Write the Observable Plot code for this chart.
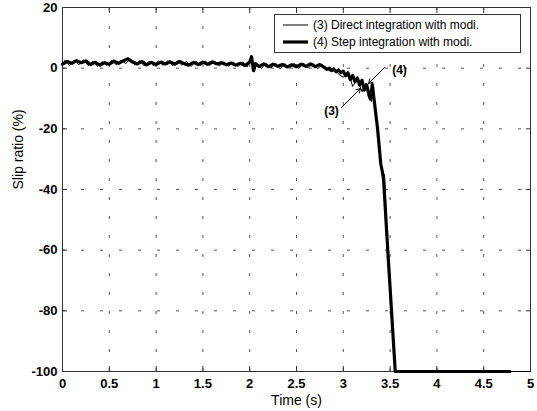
<!DOCTYPE html>
<html><head><meta charset="utf-8">
<script src="https://cdn.jsdelivr.net/npm/d3@7"></script>
<script src="https://cdn.jsdelivr.net/npm/@observablehq/plot@0.6"></script>
<style>
body{margin:0;background:#fff;}
#chart svg{display:block;}
</style></head><body><div id="chart"></div>
<script>
// ---- data ----
const xTicks = [0, 0.5, 1, 1.5, 2, 2.5, 3, 3.5, 4, 4.5, 5];
const yTicks = [-100, -80, -60, -40, -20, 0, 20];
const seriesNames = ["(3) Direct integration with modi.", "(4) Step integration with modi."];
const xLabel = "Time (s)";
const yLabel = "Slip ratio (%)";

// (4) Step integration (thick)
const time4 = [0, 0.05, 0.1, 0.15, 0.2, 0.25, 0.3, 0.35, 0.4, 0.45, 0.5, 0.55, 0.6, 0.65, 0.7, 0.75, 0.8, 0.85, 0.9, 0.95,
  1.0, 1.05, 1.1, 1.15, 1.2, 1.25, 1.3, 1.35, 1.4, 1.45, 1.5, 1.55, 1.6, 1.65, 1.7, 1.75, 1.8, 1.85, 1.9, 1.95, 2.0,
  2.02, 2.04, 2.06, 2.1, 2.15, 2.2, 2.25, 2.3, 2.35, 2.4, 2.45, 2.5, 2.55, 2.6, 2.65, 2.7, 2.75, 2.8,
  2.825, 2.85, 2.875, 2.9, 2.925, 2.95, 2.975, 3.0, 3.025, 3.05, 3.075, 3.1, 3.125, 3.15, 3.175, 3.2, 3.225, 3.25, 3.275,
  3.29, 3.31, 3.33, 3.365, 3.40, 3.415, 3.43, 3.475, 3.515, 3.555, 4.78];
const slip4 = [1.3, 2.2, 1.6, 2.5, 1.8, 2.4, 1.2, 1.9, 1.0, 1.8, 1.3, 2.3, 1.6, 2.4, 3.1, 2.0, 1.4, 2.2, 1.1, 1.9,
  1.2, 2.0, 1.4, 2.1, 1.3, 2.2, 1.5, 1.0, 1.9, 1.2, 2.0, 1.3, 2.1, 1.4, 1.8, 1.1, 1.7, 1.0, 1.6, 0.9, 2.0,
  3.8, -0.8, 1.5, 0.6, 1.4, 0.5, 1.3, 0.6, 1.2, 0.4, 1.1, 0.5, 1.3, 0.6, 1.4, 0.5, 1.2, 0.2,
  -0.4, 0.0, -0.8, -0.5, -1.2, -0.6, -1.5, -1.0, -2.5, -1.6, -3.8, -2.4, -4.5, -3.2, -5.6, -4.0, -7.2, -5.5, -9.0,
  -10.2, -5.4, -10.6, -19.6, -31.5, -33.8, -36.5, -60, -80, -100, -100];

// (3) Direct integration (thin)
const time3 = [0, 0.025, 0.075, 0.125, 0.175, 0.225, 0.275, 0.325, 0.375, 0.425,
  0.475, 0.525, 0.575, 0.625, 0.675, 0.725, 0.775, 0.825, 0.875, 0.925,
  0.975, 1.025, 1.075, 1.125, 1.175, 1.225, 1.275, 1.325, 1.375, 1.425,
  1.475, 1.525, 1.575, 1.625, 1.675, 1.725, 1.775, 1.825, 1.875, 1.925, 1.975,
  2.02, 2.05,
  2.075, 2.125, 2.175, 2.225, 2.275, 2.325, 2.375, 2.425, 2.475, 2.525, 2.575, 2.625, 2.675, 2.725, 2.775,
  2.85, 2.9, 2.95, 3.0, 3.05, 3.1, 3.15, 3.2, 3.24, 3.28, 3.3, 3.32, 3.34, 3.37, 3.4, 3.42, 3.44, 3.48, 3.52, 3.56, 5];
const slip3 = [1.0, 2.6, 0.9, 2.7, 1.1, 2.8, 0.8, 2.3, 0.6, 2.2,
  0.9, 2.6, 1.1, 2.7, 1.5, 3.0, 1.0, 2.5, 0.7, 2.3,
  0.8, 2.4, 0.9, 2.5, 0.8, 2.4, 1.0, 2.2, 0.6, 2.3,
  0.8, 2.4, 0.9, 2.3, 0.7, 2.1, 0.6, 2.0, 0.5, 2.1, 0.4,
  4.0, -1.3,
  1.7, -0.1, 1.6, 0.0, 1.7, -0.2, 1.5, 0.0, 1.6, -0.1, 1.7, 0.0, 1.6, -0.2, 1.1,
  -0.9, 0.3, -2.0, -3.0, -1.0, -6.0, -3.5, -7.8, -5.0, -8.5, -11.0, -6.5, -12.0, -22, -30.5, -34.5, -35, -64, -85, -100, -100];

// annotations
const annLabels = ["(3)", "(4)"];
const annTextX = [2.874, 3.60];
const annTextY = [-14.1, -0.8];
const arrowFromX = [2.98, 3.44];
const arrowFromY = [-13.0, 0.2];
const arrowToX = [3.184, 3.27];
const arrowToY = [-6.7, -5.05];

// ---- tables ----
const s3 = time3.map((t, i) => ({t, v: slip3[i]}));
const s4 = time4.map((t, i) => ({t, v: slip4[i]}));
const ann = annLabels.map((label, i) => ({label, x: annTextX[i], y: annTextY[i],
  x1: arrowFromX[i], y1: arrowFromY[i], x2: arrowToX[i], y2: arrowToY[i]}));

const font = '"Liberation Sans", Arial, Helvetica, sans-serif';
const gridStyle = {stroke: "#555", strokeOpacity: 1, strokeWidth: 1, strokeDasharray: "3,16"};

const plot = Plot.plot({
  width: 537, height: 411,
  marginLeft: 62, marginRight: 7, marginTop: 7, marginBottom: 40,
  style: {fontFamily: font, background: "#fff", color: "#000", overflow: "visible"},
  x: {domain: [0, 5]},
  y: {domain: [-100, 20]},
  marks: [
    Plot.gridX(xTicks, gridStyle),
    Plot.gridY(yTicks, gridStyle),
    Plot.axisX(xTicks, {anchor: "bottom", tickSize: -5, tickPadding: 12, tickFormat: d => String(d),
      fontSize: 13, fontWeight: "bold", label: null, stroke: "#333"}),
    Plot.axisX(xTicks, {anchor: "top", tickSize: -5, tickFormat: () => "", label: null, stroke: "#333"}),
    Plot.axisY(yTicks, {anchor: "left", tickSize: -5, tickPadding: 10, tickFormat: d => String(d),
      fontSize: 13, fontWeight: "bold", label: null, stroke: "#333"}),
    Plot.axisY(yTicks, {anchor: "right", tickSize: -5, tickFormat: () => "", label: null, stroke: "#333"}),
    Plot.frame({stroke: "#333", strokeWidth: 1}),
    Plot.line(s3, {x: "t", y: "v", stroke: "#000", strokeWidth: 1}),
    Plot.line(s4, {x: "t", y: "v", stroke: "#000", strokeWidth: 3.2, strokeLinejoin: "round"}),
    Plot.arrow(ann, {x1: "x1", y1: "y1", x2: "x2", y2: "y2", stroke: "#000", strokeWidth: 1, headLength: 7}),
    Plot.text(ann, {x: "x", y: "y", text: "label", fontSize: 12, fontWeight: "bold", fill: "#000"}),
    Plot.text([xLabel], {frameAnchor: "bottom", dy: 33, fontSize: 14, fill: "#000"}),
    Plot.text([yLabel], {frameAnchor: "left", dx: -44, rotate: -90, fontSize: 14, fill: "#000"})
  ]
});

// legend box inside the plot (top right)
const svg = d3.select(plot);
const lg = svg.append("g").attr("font-family", font).attr("font-size", 12).attr("text-anchor", "start");
lg.append("rect").attr("x", 274.5).attr("y", 14.5).attr("width", 246).attr("height", 38)
  .attr("fill", "#fff").attr("stroke", "#333");
const widths = [1, 3.2];
seriesNames.forEach((name, i) => {
  const yy = 25 + i * 17;
  lg.append("line").attr("x1", 283).attr("x2", 308).attr("y1", yy).attr("y2", yy)
    .attr("stroke", "#000").attr("stroke-width", widths[i]);
  lg.append("text").attr("x", 313).attr("y", yy).attr("dy", "0.35em").attr("fill", "#000")
    .attr("text-anchor", "start").text(name);
});

document.getElementById("chart").appendChild(plot);
</script>
</body></html>
